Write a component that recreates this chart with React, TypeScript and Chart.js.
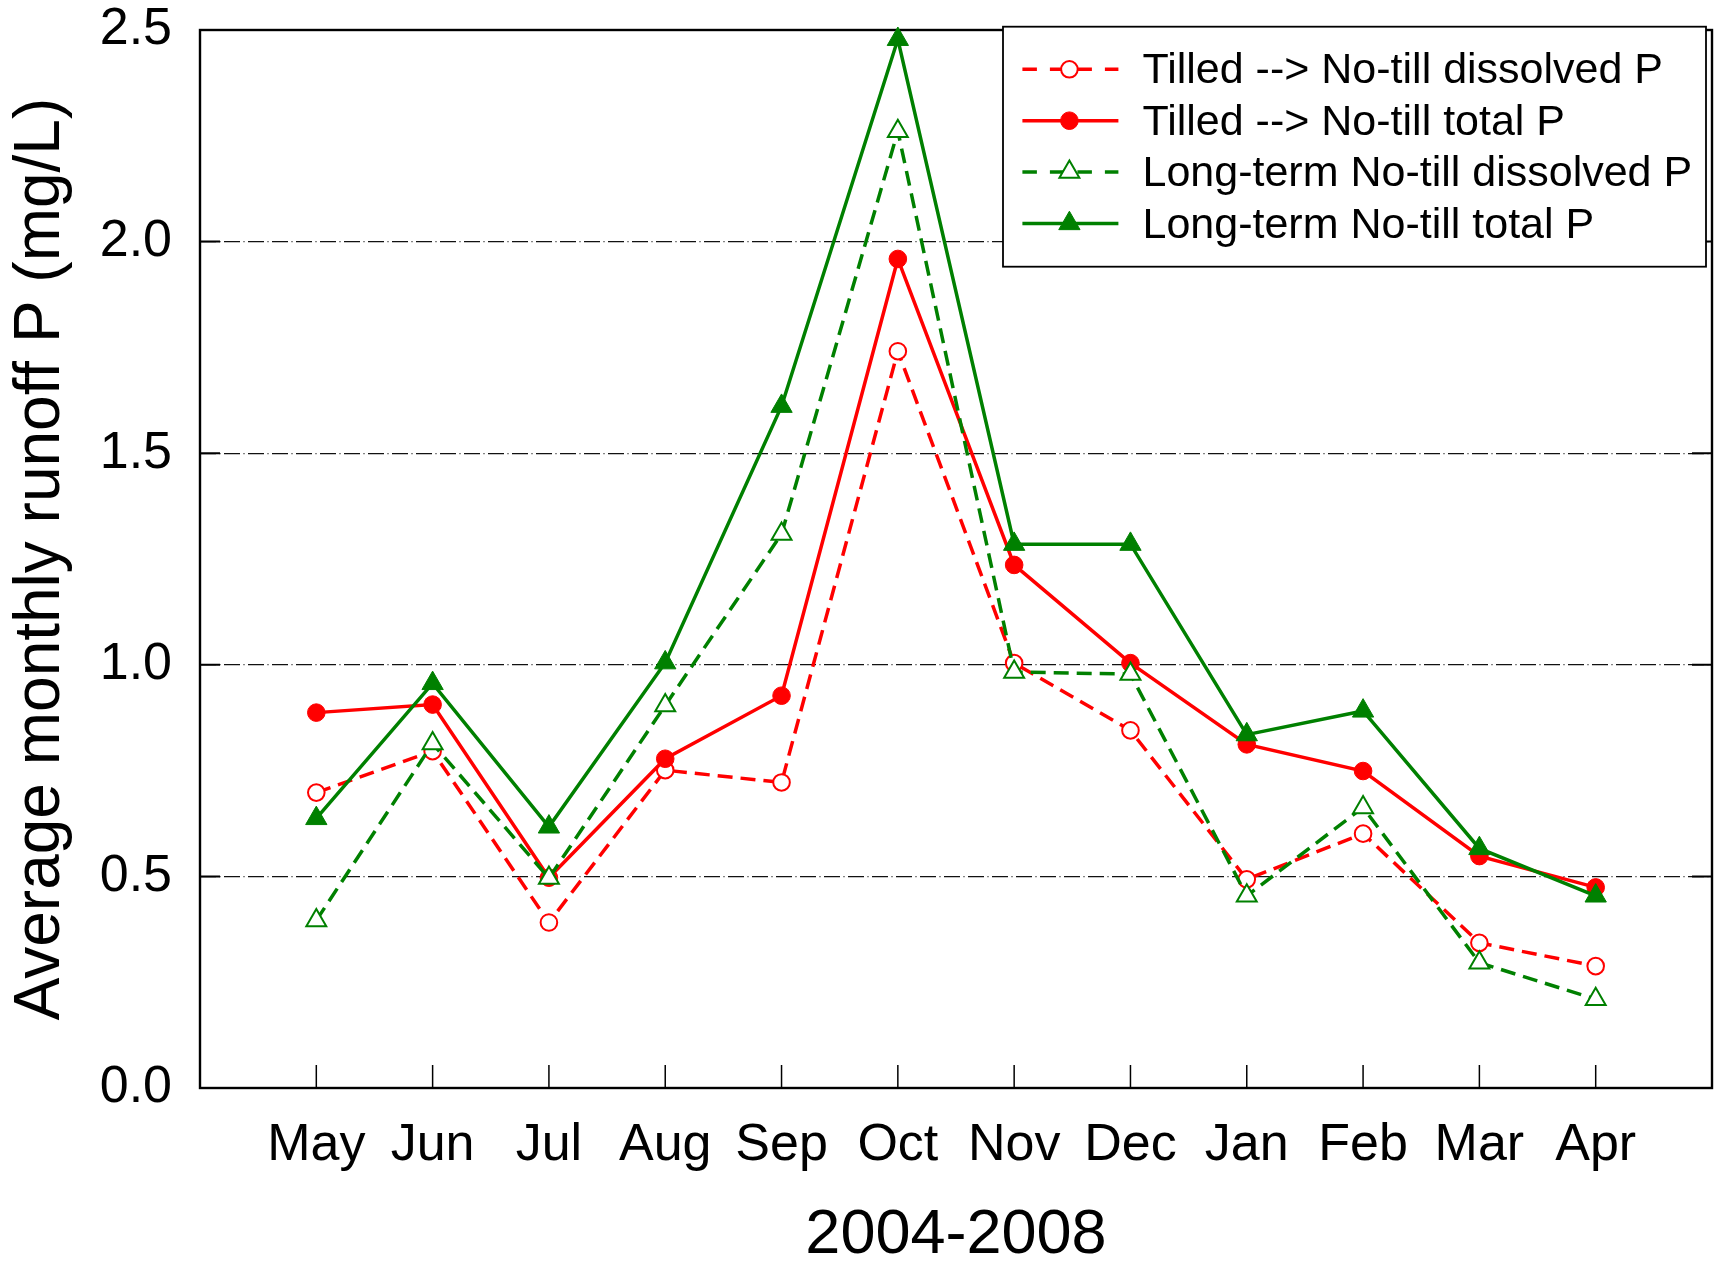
import React, { useEffect, useRef } from 'react';
import { Chart, registerables } from 'chart.js';

Chart.register(...registerables);

// ---------- data ----------
const months = ['May', 'Jun', 'Jul', 'Aug', 'Sep', 'Oct', 'Nov', 'Dec', 'Jan', 'Feb', 'Mar', 'Apr'];
const tilledDissolved = [0.698, 0.796, 0.391, 0.751, 0.722, 1.741, 1.004, 0.845, 0.493, 0.601, 0.343, 0.288];
const tilledTotal = [0.887, 0.906, 0.497, 0.778, 0.927, 1.959, 1.236, 1.004, 0.812, 0.749, 0.548, 0.474];
const longTermDissolved = [0.396, 0.814, 0.496, 0.904, 1.309, 2.261, 0.983, 0.978, 0.454, 0.663, 0.296, 0.21];
const longTermTotal = [0.637, 0.956, 0.617, 1.005, 1.611, 2.478, 1.285, 1.285, 0.835, 0.891, 0.566, 0.454];
const seriesLabels = [
  'Tilled --> No-till dissolved P',
  'Tilled --> No-till total P',
  'Long-term No-till dissolved P',
  'Long-term No-till total P',
];
const yTickValues = [0, 0.5, 1.0, 1.5, 2.0, 2.5];
const xTitle = '2004-2008';
const yTitle = 'Average monthly runoff P (mg/L)';

const FONT = "'Liberation Sans', Arial, Helvetica, sans-serif";
const RED = '#ff0000';
const GREEN = '#008000';

function drawMarker(ctx: CanvasRenderingContext2D, style: string, x: number, y: number, r: number, fill: string, stroke: string, bw: number) {
  ctx.save();
  ctx.beginPath();
  if (style === 'triangle') {
    let rad = 0;
    const third = (2 * Math.PI) / 3;
    ctx.moveTo(x + Math.sin(rad) * r, y - Math.cos(rad) * r);
    rad += third;
    ctx.lineTo(x + Math.sin(rad) * r, y - Math.cos(rad) * r);
    rad += third;
    ctx.lineTo(x + Math.sin(rad) * r, y - Math.cos(rad) * r);
    ctx.closePath();
  } else {
    ctx.arc(x, y, r, 0, Math.PI * 2);
  }
  ctx.fillStyle = fill;
  ctx.fill();
  ctx.lineWidth = bw;
  ctx.strokeStyle = stroke;
  ctx.setLineDash([]);
  ctx.stroke();
  ctx.restore();
}

const framePlugin = {
  id: 'frame',
  beforeDatasetsDraw(chart: any) {
    const { ctx, chartArea } = chart;
    const { left, right, top, bottom } = chartArea;
    const xs = chart.scales.x;
    const ys = chart.scales.y;
    ctx.save();
    ctx.setLineDash([]);
    ctx.strokeStyle = '#000';
    ctx.lineWidth = 1.5;
    months.forEach((_, i) => {
      const px = xs.getPixelForValue(i + 1);
      ctx.beginPath();
      ctx.moveTo(px, bottom);
      ctx.lineTo(px, bottom - 23);
      ctx.stroke();
    });
    ctx.lineWidth = 2;
    yTickValues.forEach((v) => {
      if (v <= 0 || v >= 2.5) return;
      const py = ys.getPixelForValue(v);
      ctx.beginPath();
      ctx.moveTo(left, py);
      ctx.lineTo(left + 20, py);
      ctx.moveTo(right - 20, py);
      ctx.lineTo(right, py);
      ctx.stroke();
    });
    ctx.lineWidth = 2.4;
    ctx.strokeRect(left, top, right - left, bottom - top);
    ctx.restore();
  },
};

const legendPlugin = {
  id: 'boxLegend',
  afterDatasetsDraw(chart: any) {
    const { ctx, chartArea } = chart;
    const boxRight = chartArea.right - 6;
    const boxLeft = boxRight - 703;
    const boxTop = chartArea.top - 3.3;
    const boxBottom = boxTop + 240;
    ctx.save();
    ctx.fillStyle = '#fff';
    ctx.fillRect(boxLeft, boxTop, boxRight - boxLeft, boxBottom - boxTop);
    ctx.lineWidth = 1.8;
    ctx.strokeStyle = '#000';
    ctx.setLineDash([]);
    ctx.strokeRect(boxLeft, boxTop, boxRight - boxLeft, boxBottom - boxTop);
    chart.data.datasets.forEach((ds: any, i: number) => {
      const cy = boxTop + 42.6 + i * 51.4;
      const x0 = boxLeft + 19.4;
      const x1 = boxLeft + 115.4;
      const mx = boxLeft + 66.4;
      ctx.save();
      ctx.strokeStyle = ds.borderColor;
      ctx.lineWidth = ds.borderWidth;
      ctx.setLineDash(ds.borderDash && ds.borderDash.length ? [14.5, 13] : []);
      ctx.beginPath();
      ctx.moveTo(x0, cy);
      ctx.lineTo(x1, cy);
      ctx.stroke();
      ctx.restore();
      drawMarker(ctx, ds.pointStyle, mx, cy, ds.pointRadius, ds.pointBackgroundColor, ds.pointBorderColor, ds.pointBorderWidth);
      ctx.fillStyle = '#000';
      ctx.font = `43px ${FONT}`;
      ctx.textBaseline = 'alphabetic';
      ctx.textAlign = 'left';
      ctx.fillText(ds.label, boxLeft + 139.5, cy + 14);
    });
    ctx.restore();
  },
};

const toPts = (arr: number[]) => arr.map((v, i) => ({ x: i + 1, y: v }));

export default function App() {
  const ref = useRef<HTMLCanvasElement | null>(null);
  useEffect(() => {
    document.body.style.margin = '0';
    const canvas = ref.current;
    if (!canvas) return;
    const LW = 3.5;
    const DASH = [15, 8];
    const chart = new Chart(canvas, {
      type: 'line',
      data: {
        datasets: [
          {
            label: seriesLabels[0],
            data: toPts(tilledDissolved),
            borderColor: RED,
            borderWidth: LW,
            borderDash: DASH,
            pointStyle: 'circle',
            pointRadius: 8.3,
            pointHoverRadius: 8.3,
            pointBorderWidth: 2,
            pointBackgroundColor: '#ffffff',
            pointBorderColor: RED,
            order: 4,
            clip: false as any,
          },
          {
            label: seriesLabels[1],
            data: toPts(tilledTotal),
            borderColor: RED,
            borderWidth: LW,
            borderDash: [],
            pointStyle: 'circle',
            pointRadius: 8.8,
            pointHoverRadius: 8.8,
            pointBorderWidth: 1,
            pointBackgroundColor: RED,
            pointBorderColor: RED,
            order: 3,
            clip: false as any,
          },
          {
            label: seriesLabels[2],
            data: toPts(longTermDissolved),
            borderColor: GREEN,
            borderWidth: LW,
            borderDash: DASH,
            pointStyle: 'triangle',
            pointRadius: 11.5,
            pointHoverRadius: 11.5,
            pointBorderWidth: 2,
            pointBackgroundColor: '#ffffff',
            pointBorderColor: GREEN,
            order: 2,
            clip: false as any,
          },
          {
            label: seriesLabels[3],
            data: toPts(longTermTotal),
            borderColor: GREEN,
            borderWidth: LW,
            borderDash: [],
            pointStyle: 'triangle',
            pointRadius: 12.3,
            pointHoverRadius: 12.3,
            pointBorderWidth: 1,
            pointBackgroundColor: GREEN,
            pointBorderColor: GREEN,
            order: 1,
            clip: false as any,
          },
        ] as any,
      },
      options: {
        responsive: false,
        animation: false,
        events: [],
        layout: { autoPadding: false, padding: { left: 0, top: 30, right: 9, bottom: 0 } },
        elements: { line: { tension: 0, fill: false } },
        plugins: {
          legend: { display: false },
          tooltip: { enabled: false },
        },
        scales: {
          x: {
            type: 'linear',
            min: 0,
            max: 13,
            afterBuildTicks: (scale: any) => {
              scale.ticks = months.map((_, i) => ({ value: i + 1 }));
            },
            afterFit: (scale: any) => {
              scale.height = 174;
              scale.paddingLeft = 0;
              scale.paddingRight = 0;
              scale.paddingTop = 0;
              scale.paddingBottom = 0;
            },
            ticks: {
              autoSkip: false,
              maxRotation: 0,
              minRotation: 0,
              padding: 26,
              color: '#000',
              font: { family: FONT, size: 52 },
              callback: (v: any) => months[Number(v) - 1] ?? '',
            },
            grid: { display: false, drawTicks: false },
            border: { display: false },
            title: {
              display: true,
              text: xTitle,
              color: '#000',
              font: { family: FONT, size: 63, lineHeight: 0.85 },
              padding: { top: 0, bottom: 0 },
            },
          },
          y: {
            type: 'linear',
            min: 0,
            max: 2.5,
            afterBuildTicks: (scale: any) => {
              scale.ticks = yTickValues.map((v) => ({ value: v }));
            },
            afterFit: (scale: any) => {
              scale.width = 200;
              scale.paddingLeft = 0;
              scale.paddingRight = 0;
              scale.paddingTop = 0;
              scale.paddingBottom = 0;
            },
            ticks: {
              padding: 28,
              color: '#000',
              font: { family: FONT, size: 52 },
              callback: (v: any) => Number(v).toFixed(1),
            },
            grid: {
              drawTicks: false,
              lineWidth: 1.3,
              color: (c: any) => (c.tick && (c.tick.value <= 0 || c.tick.value >= 2.5) ? 'rgba(0,0,0,0)' : '#111'),
            },
            border: { display: false, dash: [16, 3.5, 1, 3.5] },
            title: {
              display: true,
              text: yTitle,
              color: '#000',
              font: { family: FONT, size: 64 },
              padding: { top: 3, bottom: 0 },
            },
          },
        },
      } as any,
      plugins: [framePlugin, legendPlugin],
    });
    return () => chart.destroy();
  }, []);
  return (
    <div style={{ width: 1721, height: 1262, background: '#fff' }}>
      <canvas ref={ref} width={1721} height={1262} style={{ display: 'block' }} />
    </div>
  );
}
